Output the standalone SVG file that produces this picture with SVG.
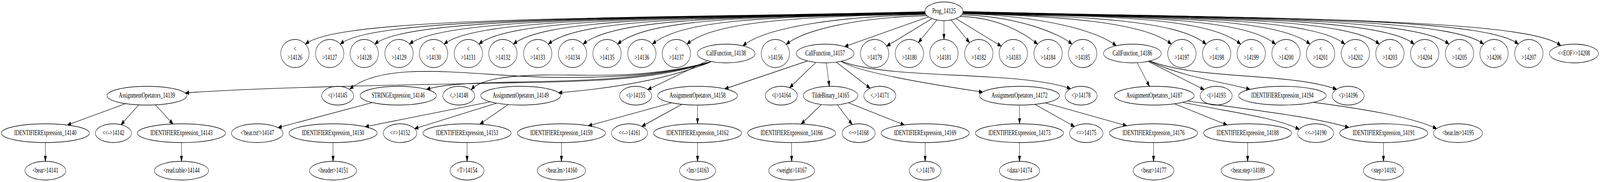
<svg xmlns="http://www.w3.org/2000/svg" width="6207" height="466" viewBox="0 0 6207 466" preserveAspectRatio="none">
<defs>
<style>
:root{width:100vw;height:100vh}
.n ellipse{fill:none;stroke:#000;stroke-width:1.33}
.n text{font-family:"Liberation Serif","Times New Roman",serif;font-size:18.67px;text-anchor:middle;fill:#000}
#edges path{fill:none;stroke:#000;stroke-width:1.33;marker-end:url(#ah)}
</style>
<marker id="ah" markerUnits="userSpaceOnUse" markerWidth="14" markerHeight="10" refX="13.3" refY="4.67" orient="auto" viewBox="0 0 14 10" overflow="visible"><path d="M0,0 L13.3,4.67 L0,9.33 Z" fill="#000" stroke="#000" stroke-width="1.33"/></marker>
</defs>
<rect width="6207" height="466" fill="#fff"/>
<g id="edges">
<path d="M3590,30 C2387,49 1315,41.5 1185,113"/>
<path d="M3590,30.5 C2455,48.7 1450,41.5 1320,113"/>
<path d="M3590,31 C2522,48.1 1584,41.5 1454,113"/>
<path d="M3590,31.5 C2589,47.5 1719,41.5 1589,113"/>
<path d="M3590,32 C2656,46.9 1853,41.5 1723,113"/>
<path d="M3590,32.5 C2724,46.4 1988,41.5 1858,113"/>
<path d="M3590,33 C2791,45.8 2122,41.5 1992,113"/>
<path d="M3590,33.5 C2858,45.2 2257,41.5 2127,113"/>
<path d="M3590,34 C2926,44.6 2392,41.5 2262,113"/>
<path d="M3590,34.5 C2993,44.1 2526,41.5 2396,113"/>
<path d="M3590,35 C3060,43.5 2658,43.2 2531,113"/>
<path d="M3590,35.5 C3127,42.9 2776,52 2665,113"/>
<path d="M3592,37 C3237,42.7 2967,70.7 2882,117.5"/>
<path d="M3596,40 C3323,44.4 3115,77.7 3050,113.7"/>
<path d="M3602,43.1 L3276.6,119.3"/>
<path d="M3615.5,47.7 L3439.9,118.2"/>
<path d="M3634.4,51.3 L3562.7,109.1"/>
<path d="M3662,53 L3662,101"/>
<path d="M3689.6,51.3 L3761.3,109.1"/>
<path d="M3708.5,47.7 L3884.1,118.2"/>
<path d="M3724,42 C3874,44.4 3975,85.5 4025,113"/>
<path d="M3731,38 C3945,41.4 4108,85 4159,113"/>
<path d="M3734,35 C4032,39.8 4258,77.9 4330,117.2"/>
<path d="M3735,34.5 C4139,41 4447,59.6 4544,113"/>
<path d="M3735,34 C4207,41.6 4566,50.9 4679,113"/>
<path d="M3735,33.5 C4274,42.1 4683,41.8 4813,113"/>
<path d="M3735,33 C4341,42.7 4818,41.5 4948,113"/>
<path d="M3735,32.5 C4408,43.3 4952,41.5 5082,113"/>
<path d="M3735,32 C4476,43.9 5087,41.5 5217,113"/>
<path d="M3735,31.5 C4543,44.4 5221,41.5 5351,113"/>
<path d="M3735,31 C4610,45 5356,41.5 5486,113"/>
<path d="M3735,30.5 C4678,45.6 5491,41.5 5621,113"/>
<path d="M3735,30.2 C4745,46.4 5625,41.5 5755,113"/>
<path d="M3735,30 C4812,47.2 5760,41.5 5890,113"/>
<path d="M3735,29.5 C4895,48.1 5925,45.5 6055,117"/>
<path d="M2758,158 C2550,205 2300,208 2000,212 C1500,218 1000,224 719,238"/>
<path d="M2758,158 C2600,190 2400,200 2141,198 C1850,196 1500,150 1357,228"/>
<path d="M2758,158 C2550,200 2300,207 2000,210 C1850,212 1720,215 1655,228.9"/>
<path d="M2758,158 C2500,205 2250,190 2110,192 C1950,194 1860,205 1828,229.8"/>
<path d="M2756,159 C2600,200 2400,225 2167,237.4"/>
<path d="M2745,155.4 L2513,229.4"/>
<path d="M3133,156 L2812,227.5"/>
<path d="M3165.2,159.7 L3063.3,224.5"/>
<path d="M3205.7,161 L3217.3,221"/>
<path d="M3244.4,159.1 L3375.5,225.9"/>
<path d="M3262,157 C3330,185 3600,215 3812,235.7"/>
<path d="M3264,157 C3450,205 3950,180 4153,227"/>
<path d="M4411.6,160.7 L4459.2,221.2"/>
<path d="M4453.7,157.2 L4671,229.4"/>
<path d="M4458,156.5 C4600,200 4750,210 4849,228.9"/>
<path d="M4460,156 C4650,205 5000,185 5185,228.5"/>
<path d="M487,265.3 L261.4,320.2"/>
<path d="M538.2,268.5 L469.5,319.2"/>
<path d="M602.7,268.5 L671.1,317.5"/>
<path d="M1444.6,262.6 L1078.7,326.8"/>
<path d="M1902,260.6 L1416.6,324.6"/>
<path d="M1926.6,264.2 L1608.8,329.3"/>
<path d="M1970.7,267.8 L1861.8,318"/>
<path d="M2605.5,263.3 L2282.5,322"/>
<path d="M2645.3,267.1 L2490,323.5"/>
<path d="M2706,269 L2706,317"/>
<path d="M3186.4,267.6 L3107.9,317.6"/>
<path d="M3248.4,268.2 L3305.9,318.9"/>
<path d="M3291.4,263.1 L3508.1,319.9"/>
<path d="M3955,269 L3955,317"/>
<path d="M4014.7,267.1 L4168.1,324"/>
<path d="M4054.5,263.4 L4370.6,321.9"/>
<path d="M4556.2,265.7 L4760,319.8"/>
<path d="M4588.1,261.9 C4750,285 4950,300 5040.1,331.2"/>
<path d="M4605.2,258.7 C4850,280 5100,300 5232.4,326.4"/>
<path d="M5095.3,262 C5300,280 5480,300 5573,329.3"/>
<path d="M176,365 L176,413"/>
<path d="M704,365 L704,413"/>
<path d="M1292,365 L1292,413"/>
<path d="M1812,365 L1812,413"/>
<path d="M2178,365 L2178,413"/>
<path d="M2706,365 L2706,413"/>
<path d="M3071,365 L3071,413"/>
<path d="M3589,365 L3589,413"/>
<path d="M3955,365 L3955,413"/>
<path d="M4475,365 L4475,413"/>
<path d="M4840,365 L4840,413"/>
<path d="M5367,365 L5367,413"/>
</g>
<g id="n14125" class="n"><ellipse cx="3662" cy="29" rx="74" ry="24"/><text x="3662" y="34.5">Prog_14125</text></g>
<g id="n14126" class="n"><ellipse cx="1144" cy="137" rx="55" ry="36"/><text x="1144" y="131.5">&lt;</text><text x="1144" y="153.5">&gt;14126</text></g>
<g id="n14127" class="n"><ellipse cx="1279" cy="137" rx="55" ry="36"/><text x="1279" y="131.5">&lt;</text><text x="1279" y="153.5">&gt;14127</text></g>
<g id="n14128" class="n"><ellipse cx="1413" cy="137" rx="55" ry="36"/><text x="1413" y="131.5">&lt;</text><text x="1413" y="153.5">&gt;14128</text></g>
<g id="n14129" class="n"><ellipse cx="1548" cy="137" rx="55" ry="36"/><text x="1548" y="131.5">&lt;</text><text x="1548" y="153.5">&gt;14129</text></g>
<g id="n14130" class="n"><ellipse cx="1682" cy="137" rx="55" ry="36"/><text x="1682" y="131.5">&lt;</text><text x="1682" y="153.5">&gt;14130</text></g>
<g id="n14131" class="n"><ellipse cx="1817" cy="137" rx="55" ry="36"/><text x="1817" y="131.5">&lt;</text><text x="1817" y="153.5">&gt;14131</text></g>
<g id="n14132" class="n"><ellipse cx="1951" cy="137" rx="55" ry="36"/><text x="1951" y="131.5">&lt;</text><text x="1951" y="153.5">&gt;14132</text></g>
<g id="n14133" class="n"><ellipse cx="2086" cy="137" rx="55" ry="36"/><text x="2086" y="131.5">&lt;</text><text x="2086" y="153.5">&gt;14133</text></g>
<g id="n14134" class="n"><ellipse cx="2221" cy="137" rx="55" ry="36"/><text x="2221" y="131.5">&lt;</text><text x="2221" y="153.5">&gt;14134</text></g>
<g id="n14135" class="n"><ellipse cx="2355" cy="137" rx="55" ry="36"/><text x="2355" y="131.5">&lt;</text><text x="2355" y="153.5">&gt;14135</text></g>
<g id="n14136" class="n"><ellipse cx="2490" cy="137" rx="55" ry="36"/><text x="2490" y="131.5">&lt;</text><text x="2490" y="153.5">&gt;14136</text></g>
<g id="n14137" class="n"><ellipse cx="2624" cy="137" rx="55" ry="36"/><text x="2624" y="131.5">&lt;</text><text x="2624" y="153.5">&gt;14137</text></g>
<g id="n14138" class="n"><ellipse cx="2817" cy="137" rx="112" ry="24"/><text x="2817" y="142.5">CallFunction_14138</text></g>
<g id="n14139" class="n"><ellipse cx="570" cy="245" rx="155" ry="24"/><text x="570" y="250.5">AssignmentOpetators_14139</text></g>
<g id="n14140" class="n"><ellipse cx="176" cy="341" rx="171" ry="24"/><text x="176" y="346.5">IDENTIFIERExpression_14140</text></g>
<g id="n14141" class="n"><ellipse cx="176" cy="437" rx="79" ry="24"/><text x="176" y="442.5">&lt;bear&gt;14141</text></g>
<g id="n14142" class="n"><ellipse cx="440" cy="341" rx="70" ry="24"/><text x="440" y="346.5">&lt;&lt;-&gt;14142</text></g>
<g id="n14143" class="n"><ellipse cx="704" cy="341" rx="171" ry="24"/><text x="704" y="346.5">IDENTIFIERExpression_14143</text></g>
<g id="n14144" class="n"><ellipse cx="704" cy="437" rx="105" ry="24"/><text x="704" y="442.5">&lt;read.table&gt;14144</text></g>
<g id="n14145" class="n"><ellipse cx="1310" cy="245" rx="62" ry="24"/><text x="1310" y="250.5">&lt;(&gt;14145</text></g>
<g id="n14146" class="n"><ellipse cx="1545" cy="245" rx="148" ry="24"/><text x="1545" y="250.5">STRINGExpression_14146</text></g>
<g id="n14147" class="n"><ellipse cx="998" cy="341" rx="100" ry="24"/><text x="998" y="346.5">&lt;'bear.txt'&gt;14147</text></g>
<g id="n14148" class="n"><ellipse cx="1780" cy="245" rx="62" ry="24"/><text x="1780" y="250.5">&lt;,&gt;14148</text></g>
<g id="n14149" class="n"><ellipse cx="2020" cy="245" rx="155" ry="24"/><text x="2020" y="250.5">AssignmentOpetators_14149</text></g>
<g id="n14150" class="n"><ellipse cx="1292" cy="341" rx="171" ry="24"/><text x="1292" y="346.5">IDENTIFIERExpression_14150</text></g>
<g id="n14151" class="n"><ellipse cx="1292" cy="437" rx="91" ry="24"/><text x="1292" y="442.5">&lt;header&gt;14151</text></g>
<g id="n14152" class="n"><ellipse cx="1552" cy="341" rx="65" ry="24"/><text x="1552" y="346.5">&lt;=&gt;14152</text></g>
<g id="n14153" class="n"><ellipse cx="1812" cy="341" rx="171" ry="24"/><text x="1812" y="346.5">IDENTIFIERExpression_14153</text></g>
<g id="n14154" class="n"><ellipse cx="1812" cy="437" rx="66" ry="24"/><text x="1812" y="442.5">&lt;T&gt;14154</text></g>
<g id="n14155" class="n"><ellipse cx="2466" cy="245" rx="62" ry="24"/><text x="2466" y="250.5">&lt;)&gt;14155</text></g>
<g id="n14156" class="n"><ellipse cx="3008" cy="137" rx="55" ry="36"/><text x="3008" y="131.5">&lt;</text><text x="3008" y="153.5">&gt;14156</text></g>
<g id="n14157" class="n"><ellipse cx="3201" cy="137" rx="112" ry="24"/><text x="3201" y="142.5">CallFunction_14157</text></g>
<g id="n14158" class="n"><ellipse cx="2706" cy="245" rx="155" ry="24"/><text x="2706" y="250.5">AssignmentOpetators_14158</text></g>
<g id="n14159" class="n"><ellipse cx="2178" cy="341" rx="171" ry="24"/><text x="2178" y="346.5">IDENTIFIERExpression_14159</text></g>
<g id="n14160" class="n"><ellipse cx="2178" cy="437" rx="94" ry="24"/><text x="2178" y="442.5">&lt;bear.lm&gt;14160</text></g>
<g id="n14161" class="n"><ellipse cx="2442" cy="341" rx="70" ry="24"/><text x="2442" y="346.5">&lt;&lt;-&gt;14161</text></g>
<g id="n14162" class="n"><ellipse cx="2706" cy="341" rx="171" ry="24"/><text x="2706" y="346.5">IDENTIFIERExpression_14162</text></g>
<g id="n14163" class="n"><ellipse cx="2706" cy="437" rx="70" ry="24"/><text x="2706" y="442.5">&lt;lm&gt;14163</text></g>
<g id="n14164" class="n"><ellipse cx="3031" cy="245" rx="62" ry="24"/><text x="3031" y="250.5">&lt;(&gt;14164</text></g>
<g id="n14165" class="n"><ellipse cx="3222" cy="245" rx="106" ry="24"/><text x="3222" y="250.5">TildeBinary_14165</text></g>
<g id="n14166" class="n"><ellipse cx="3071" cy="341" rx="171" ry="24"/><text x="3071" y="346.5">IDENTIFIERExpression_14166</text></g>
<g id="n14167" class="n"><ellipse cx="3071" cy="437" rx="89" ry="24"/><text x="3071" y="442.5">&lt;weight&gt;14167</text></g>
<g id="n14168" class="n"><ellipse cx="3331" cy="341" rx="64" ry="24"/><text x="3331" y="346.5">&lt;~&gt;14168</text></g>
<g id="n14169" class="n"><ellipse cx="3589" cy="341" rx="171" ry="24"/><text x="3589" y="346.5">IDENTIFIERExpression_14169</text></g>
<g id="n14170" class="n"><ellipse cx="3589" cy="437" rx="62" ry="24"/><text x="3589" y="442.5">&lt;.&gt;14170</text></g>
<g id="n14171" class="n"><ellipse cx="3413" cy="245" rx="62" ry="24"/><text x="3413" y="250.5">&lt;,&gt;14171</text></g>
<g id="n14172" class="n"><ellipse cx="3955" cy="245" rx="155" ry="24"/><text x="3955" y="250.5">AssignmentOpetators_14172</text></g>
<g id="n14173" class="n"><ellipse cx="3955" cy="341" rx="171" ry="24"/><text x="3955" y="346.5">IDENTIFIERExpression_14173</text></g>
<g id="n14174" class="n"><ellipse cx="3955" cy="437" rx="78" ry="24"/><text x="3955" y="442.5">&lt;data&gt;14174</text></g>
<g id="n14175" class="n"><ellipse cx="4214" cy="341" rx="65" ry="24"/><text x="4214" y="346.5">&lt;=&gt;14175</text></g>
<g id="n14176" class="n"><ellipse cx="4475" cy="341" rx="171" ry="24"/><text x="4475" y="346.5">IDENTIFIERExpression_14176</text></g>
<g id="n14177" class="n"><ellipse cx="4475" cy="437" rx="79" ry="24"/><text x="4475" y="442.5">&lt;bear&gt;14177</text></g>
<g id="n14178" class="n"><ellipse cx="4194" cy="245" rx="62" ry="24"/><text x="4194" y="250.5">&lt;)&gt;14178</text></g>
<g id="n14179" class="n"><ellipse cx="3393" cy="137" rx="55" ry="36"/><text x="3393" y="131.5">&lt;</text><text x="3393" y="153.5">&gt;14179</text></g>
<g id="n14180" class="n"><ellipse cx="3528" cy="137" rx="55" ry="36"/><text x="3528" y="131.5">&lt;</text><text x="3528" y="153.5">&gt;14180</text></g>
<g id="n14181" class="n"><ellipse cx="3662" cy="137" rx="55" ry="36"/><text x="3662" y="131.5">&lt;</text><text x="3662" y="153.5">&gt;14181</text></g>
<g id="n14182" class="n"><ellipse cx="3797" cy="137" rx="55" ry="36"/><text x="3797" y="131.5">&lt;</text><text x="3797" y="153.5">&gt;14182</text></g>
<g id="n14183" class="n"><ellipse cx="3931" cy="137" rx="55" ry="36"/><text x="3931" y="131.5">&lt;</text><text x="3931" y="153.5">&gt;14183</text></g>
<g id="n14184" class="n"><ellipse cx="4066" cy="137" rx="55" ry="36"/><text x="4066" y="131.5">&lt;</text><text x="4066" y="153.5">&gt;14184</text></g>
<g id="n14185" class="n"><ellipse cx="4200" cy="137" rx="55" ry="36"/><text x="4200" y="131.5">&lt;</text><text x="4200" y="153.5">&gt;14185</text></g>
<g id="n14186" class="n"><ellipse cx="4393" cy="137" rx="112" ry="24"/><text x="4393" y="142.5">CallFunction_14186</text></g>
<g id="n14187" class="n"><ellipse cx="4478" cy="245" rx="155" ry="24"/><text x="4478" y="250.5">AssignmentOpetators_14187</text></g>
<g id="n14188" class="n"><ellipse cx="4840" cy="341" rx="171" ry="24"/><text x="4840" y="346.5">IDENTIFIERExpression_14188</text></g>
<g id="n14189" class="n"><ellipse cx="4840" cy="437" rx="103" ry="24"/><text x="4840" y="442.5">&lt;bear.step&gt;14189</text></g>
<g id="n14190" class="n"><ellipse cx="5104" cy="341" rx="70" ry="24"/><text x="5104" y="346.5">&lt;&lt;-&gt;14190</text></g>
<g id="n14191" class="n"><ellipse cx="5368" cy="341" rx="171" ry="24"/><text x="5368" y="346.5">IDENTIFIERExpression_14191</text></g>
<g id="n14192" class="n"><ellipse cx="5367" cy="437" rx="78" ry="24"/><text x="5367" y="442.5">&lt;step&gt;14192</text></g>
<g id="n14193" class="n"><ellipse cx="4718" cy="245" rx="62" ry="24"/><text x="4718" y="250.5">&lt;(&gt;14193</text></g>
<g id="n14194" class="n"><ellipse cx="4975" cy="245" rx="170" ry="24"/><text x="4975" y="250.5">IDENTIFIERExpression_14194</text></g>
<g id="n14195" class="n"><ellipse cx="5656" cy="341" rx="95" ry="24"/><text x="5656" y="346.5">&lt;bear.lm&gt;14195</text></g>
<g id="n14196" class="n"><ellipse cx="5230" cy="245" rx="62" ry="24"/><text x="5230" y="250.5">&lt;)&gt;14196</text></g>
<g id="n14197" class="n"><ellipse cx="4585" cy="137" rx="55" ry="36"/><text x="4585" y="131.5">&lt;</text><text x="4585" y="153.5">&gt;14197</text></g>
<g id="n14198" class="n"><ellipse cx="4720" cy="137" rx="55" ry="36"/><text x="4720" y="131.5">&lt;</text><text x="4720" y="153.5">&gt;14198</text></g>
<g id="n14199" class="n"><ellipse cx="4854" cy="137" rx="55" ry="36"/><text x="4854" y="131.5">&lt;</text><text x="4854" y="153.5">&gt;14199</text></g>
<g id="n14200" class="n"><ellipse cx="4989" cy="137" rx="55" ry="36"/><text x="4989" y="131.5">&lt;</text><text x="4989" y="153.5">&gt;14200</text></g>
<g id="n14201" class="n"><ellipse cx="5123" cy="137" rx="55" ry="36"/><text x="5123" y="131.5">&lt;</text><text x="5123" y="153.5">&gt;14201</text></g>
<g id="n14202" class="n"><ellipse cx="5258" cy="137" rx="55" ry="36"/><text x="5258" y="131.5">&lt;</text><text x="5258" y="153.5">&gt;14202</text></g>
<g id="n14203" class="n"><ellipse cx="5392" cy="137" rx="55" ry="36"/><text x="5392" y="131.5">&lt;</text><text x="5392" y="153.5">&gt;14203</text></g>
<g id="n14204" class="n"><ellipse cx="5527" cy="137" rx="55" ry="36"/><text x="5527" y="131.5">&lt;</text><text x="5527" y="153.5">&gt;14204</text></g>
<g id="n14205" class="n"><ellipse cx="5662" cy="137" rx="55" ry="36"/><text x="5662" y="131.5">&lt;</text><text x="5662" y="153.5">&gt;14205</text></g>
<g id="n14206" class="n"><ellipse cx="5796" cy="137" rx="55" ry="36"/><text x="5796" y="131.5">&lt;</text><text x="5796" y="153.5">&gt;14206</text></g>
<g id="n14207" class="n"><ellipse cx="5931" cy="137" rx="55" ry="36"/><text x="5931" y="131.5">&lt;</text><text x="5931" y="153.5">&gt;14207</text></g>
<g id="n14208" class="n"><ellipse cx="6106" cy="137" rx="95" ry="24"/><text x="6106" y="142.5">&lt;&lt;EOF&gt;&gt;14208</text></g>
</svg>
